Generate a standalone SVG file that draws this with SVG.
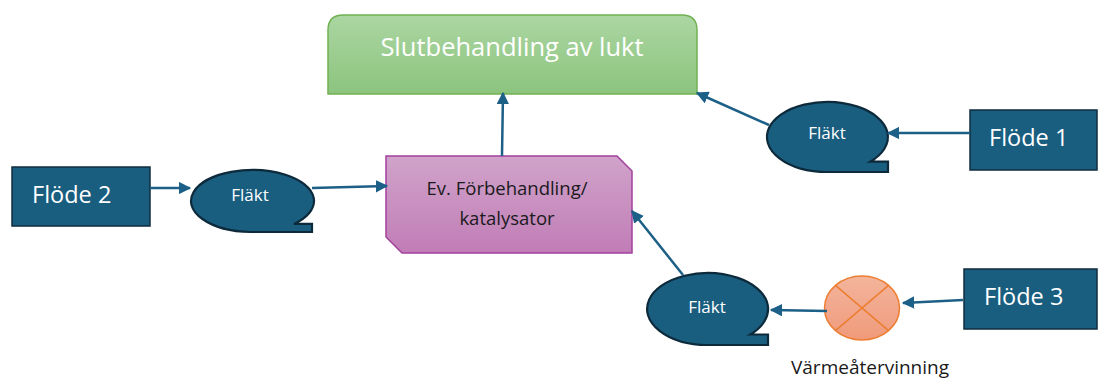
<svg xmlns="http://www.w3.org/2000/svg" width="1098" height="379" viewBox="0 0 1098 379">
  <defs>
    <linearGradient id="gGreen" x1="0" y1="0" x2="0" y2="1">
      <stop offset="0" stop-color="#abd6a2"/>
      <stop offset="1" stop-color="#8cc47e"/>
    </linearGradient>
    <linearGradient id="gPurple" x1="0" y1="0" x2="0" y2="1">
      <stop offset="0" stop-color="#d0a3ca"/>
      <stop offset="1" stop-color="#c17db6"/>
    </linearGradient>
    <linearGradient id="gOrange" x1="0" y1="0" x2="0" y2="1">
      <stop offset="0" stop-color="#f3b59c"/>
      <stop offset="1" stop-color="#f09a7b"/>
    </linearGradient>
    <marker id="arrow" viewBox="0 0 10 10" refX="9" refY="5" markerWidth="5" markerHeight="5" markerUnits="strokeWidth" orient="auto">
      <path d="M0,0 L10,5 L0,10 Z" fill="#1d6087"/>
    </marker>
  </defs>
  <style>
    .flow { fill: #195d7f; stroke: #0f2d3f; stroke-width: 1.5; }
    .fan { fill: #195d7f; stroke: #0d2a3b; stroke-width: 2.2; }
    .wtxt { fill: #ffffff; font-family: "Open Sans", "Liberation Sans", sans-serif; }
    .dtxt { fill: #1a1a1a; font-family: "Open Sans", "Liberation Sans", sans-serif; }
    .conn { stroke: #1d6087; stroke-width: 2.5; fill: none; marker-end: url(#arrow); }
  </style>

  <!-- final odour treatment -->
  <g id="slutbehandling">
    <path d="M328,94 L328,30 Q328,15 343,15 L682,15 Q697,15 697,30 L697,94 Z" fill="url(#gGreen)" stroke="#70b152" stroke-width="1.5"/>
    <text class="wtxt" x="512" y="56" font-size="25.5" text-anchor="middle">Slutbehandling av lukt</text>
  </g>

  <!-- pre-treatment / catalyst -->
  <g id="forbehandling">
    <path d="M386,156 L617,156 L632,171 L632,253 L402,253 L386,237 Z" fill="url(#gPurple)" stroke="#a2409e" stroke-width="1.5"/>
    <text class="dtxt" x="507" y="195" font-size="18.5" text-anchor="middle">Ev. Förbehandling/</text>
    <text class="dtxt" x="507" y="225" font-size="18.5" text-anchor="middle">katalysator</text>
  </g>

  <!-- inflows -->
  <g id="flode1">
    <rect class="flow" x="970" y="110" width="127" height="60"/>
    <text class="wtxt" x="989" y="146" font-size="23.5">Flöde 1</text>
  </g>
  <g id="flode2">
    <rect class="flow" x="12" y="167" width="138" height="59"/>
    <text class="wtxt" x="32" y="203" font-size="23.5">Flöde 2</text>
  </g>
  <g id="flode3">
    <rect class="flow" x="964" y="269" width="133" height="60"/>
    <text class="wtxt" x="984" y="305" font-size="23.5">Flöde 3</text>
  </g>

  <!-- fans (sequential-access shape) -->
  <g id="flakt-vanster">
    <path class="fan" d="M250.5,232 A61.5,31 0 1 1 294,223.9 L312,223.9 L312,232 Z"/>
    <text class="wtxt" x="250" y="201" font-size="17" text-anchor="middle">Fläkt</text>
  </g>
  <g id="flakt-hoger">
    <path class="fan" d="M827.5,172 A60.5,35 0 1 1 870.3,161.7 L888,161.7 L888,172 Z"/>
    <text class="wtxt" x="827" y="139" font-size="17" text-anchor="middle">Fläkt</text>
  </g>
  <g id="flakt-nedre">
    <path class="fan" d="M707.5,345 A60.5,36 0 1 1 750.3,334.5 L768,334.5 L768,345 Z"/>
    <text class="wtxt" x="707" y="313" font-size="17" text-anchor="middle">Fläkt</text>
  </g>

  <!-- heat recovery -->
  <g id="varmeatervinning">
    <ellipse cx="862" cy="308" rx="37.5" ry="32" fill="url(#gOrange)" stroke="#ed7d31" stroke-width="1.5"/>
    <path d="M835.5,285.4 L888.5,330.6 M888.5,285.4 L835.5,330.6" stroke="#ed7d31" stroke-width="1.5"/>
    <text class="dtxt" x="870" y="373.5" font-size="19" text-anchor="middle">Värmeåtervinning</text>
  </g>

  <!-- connectors -->
  <g id="connectors">
    <line class="conn" x1="970" y1="133" x2="888" y2="133"/>
    <line class="conn" x1="769" y1="125" x2="697" y2="93"/>
    <line class="conn" x1="502" y1="156" x2="503" y2="93"/>
    <line class="conn" x1="150" y1="188" x2="190" y2="188"/>
    <line class="conn" x1="312" y1="188" x2="387" y2="186"/>
    <line class="conn" x1="683" y1="275" x2="632" y2="211"/>
    <line class="conn" x1="827" y1="311" x2="771" y2="310"/>
    <line class="conn" x1="963" y1="300" x2="903" y2="303"/>
  </g>
</svg>
